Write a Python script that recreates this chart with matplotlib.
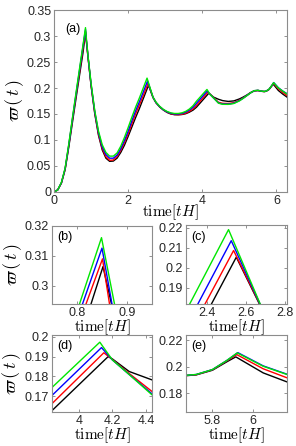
import numpy as np
import matplotlib
matplotlib.use('Agg')
import matplotlib.pyplot as plt
from matplotlib.ticker import FuncFormatter

plt.rcParams['font.family'] = ['Liberation Sans', 'DejaVu Sans']
plt.rcParams['mathtext.fontset'] = 'cm'

# curves: time [tH] and varpi(t)
t_black = [0.0, 0.1, 0.2, 0.3, 0.4, 0.5, 0.6, 0.7, 0.78, 0.828, 0.852, 0.869, 0.92, 1.0, 1.1, 1.2, 1.3,
           1.4, 1.5, 1.6, 1.7, 1.8, 1.9, 2.0, 2.1, 2.2, 2.3, 2.421, 2.549, 2.668, 2.75, 2.85, 2.95,
           3.05, 3.15, 3.25, 3.35, 3.45, 3.55, 3.65, 3.75, 3.84, 4.175, 4.2, 4.3, 4.436, 4.55, 4.7,
           4.85, 5.0, 5.1, 5.2, 5.3, 5.4, 5.5, 5.6, 5.67, 5.72, 5.8, 5.87, 5.915, 6.05, 6.167, 6.283]
w_black = [0.0, 0.004, 0.017, 0.043, 0.087, 0.135, 0.183, 0.230, 0.267, 0.2939, 0.3064, 0.2939, 0.257,
           0.204, 0.150, 0.109, 0.081, 0.065, 0.059, 0.0595, 0.065, 0.076, 0.090, 0.107, 0.125, 0.143,
           0.160, 0.182, 0.2053, 0.182, 0.1715, 0.1635, 0.1575, 0.153, 0.150, 0.1487, 0.1485, 0.149,
           0.1505, 0.1535, 0.1575, 0.1629, 0.190, 0.1888, 0.1825, 0.1783, 0.1757, 0.1742, 0.1752,
           0.179, 0.1825, 0.1865, 0.1912, 0.1945, 0.195, 0.1936, 0.1931, 0.1937, 0.1972, 0.2035,
           0.2073, 0.1952, 0.1884, 0.1825]

t_red = [0.0, 0.1, 0.2, 0.3, 0.4, 0.5, 0.6, 0.7, 0.818, 0.851, 0.865, 0.92, 1.0, 1.1, 1.2, 1.3, 1.4,
         1.5, 1.6, 1.7, 1.8, 1.9, 2.0, 2.1, 2.2, 2.3, 2.388, 2.535, 2.67, 2.75, 2.85, 2.95, 3.05,
         3.15, 3.25, 3.35, 3.45, 3.55, 3.65, 3.75, 3.84, 4.149, 4.2, 4.3, 4.436, 4.55, 4.7, 4.85,
         5.0, 5.1, 5.2, 5.3, 5.4, 5.5, 5.6, 5.67, 5.72, 5.8, 5.87, 5.92, 6.05, 6.167, 6.283]
w_red = [0.0, 0.004, 0.0175, 0.044, 0.090, 0.140, 0.188, 0.236, 0.2939, 0.309, 0.2939, 0.258, 0.205,
         0.152, 0.111, 0.084, 0.068, 0.061, 0.0615, 0.068, 0.080, 0.095, 0.112, 0.131, 0.150, 0.167,
         0.182, 0.2086, 0.182, 0.172, 0.164, 0.158, 0.1535, 0.1505, 0.149, 0.1487, 0.1495, 0.1515,
         0.155, 0.160, 0.1664, 0.1919, 0.1885, 0.1815, 0.1725, 0.1705, 0.1702, 0.1718, 0.1765,
         0.1808, 0.1855, 0.1908, 0.1946, 0.1953, 0.1937, 0.1932, 0.1938, 0.1975, 0.2042, 0.209,
         0.1983, 0.1915, 0.1855]

t_blue = [0.0, 0.1, 0.2, 0.3, 0.4, 0.5, 0.6, 0.7, 0.811, 0.850, 0.870, 0.92, 1.0, 1.1, 1.2, 1.3, 1.4,
          1.5, 1.6, 1.7, 1.8, 1.9, 2.0, 2.1, 2.2, 2.351, 2.523, 2.671, 2.75, 2.85, 2.95, 3.05, 3.15,
          3.25, 3.35, 3.45, 3.55, 3.65, 3.75, 3.84, 4.135, 4.2, 4.3, 4.436, 4.55, 4.7, 4.85, 5.0,
          5.1, 5.2, 5.3, 5.4, 5.5, 5.6, 5.67, 5.72, 5.8, 5.87, 5.925, 6.05, 6.167, 6.283]
w_blue = [0.0, 0.004, 0.018, 0.045, 0.091, 0.142, 0.191, 0.240, 0.2939, 0.3126, 0.2939, 0.259, 0.207,
          0.154, 0.114, 0.087, 0.072, 0.065, 0.065, 0.071, 0.083, 0.099, 0.117, 0.137, 0.156, 0.182,
          0.2135, 0.182, 0.1722, 0.1642, 0.1582, 0.154, 0.1513, 0.150, 0.150, 0.151, 0.1535, 0.1575,
          0.163, 0.1705, 0.1945, 0.1883, 0.181, 0.1713, 0.1692, 0.169, 0.1708, 0.1758, 0.1803,
          0.1855, 0.1906, 0.1948, 0.1955, 0.1938, 0.1933, 0.194, 0.1977, 0.2045, 0.2105, 0.2005,
          0.1942, 0.189]

t_green = [0.0, 0.1, 0.2, 0.3, 0.4, 0.5, 0.6, 0.7, 0.805, 0.849, 0.875, 0.92, 1.0, 1.1, 1.2, 1.3, 1.4,
           1.5, 1.6, 1.7, 1.8, 1.9, 2.0, 2.1, 2.2, 2.309, 2.509, 2.672, 2.75, 2.85, 2.95, 3.05, 3.15,
           3.25, 3.35, 3.45, 3.55, 3.65, 3.75, 3.84, 4.125, 4.2, 4.3, 4.436, 4.55, 4.7, 4.85, 5.0,
           5.1, 5.2, 5.3, 5.4, 5.5, 5.6, 5.67, 5.72, 5.8, 5.87, 5.922, 6.05, 6.167, 6.283]
w_green = [0.0, 0.004, 0.0185, 0.046, 0.093, 0.144, 0.194, 0.243, 0.2939, 0.3161, 0.2939, 0.260, 0.209,
           0.156, 0.117, 0.091, 0.076, 0.069, 0.069, 0.075, 0.088, 0.105, 0.124, 0.144, 0.163, 0.182,
           0.219, 0.182, 0.1728, 0.1648, 0.1588, 0.1548, 0.1522, 0.151, 0.151, 0.1522, 0.155, 0.1595,
           0.166, 0.1745, 0.1972, 0.1883, 0.181, 0.1708, 0.1686, 0.1685, 0.1702, 0.1752, 0.18,
           0.1853, 0.1906, 0.1949, 0.1956, 0.1939, 0.1934, 0.194, 0.1977, 0.2045, 0.2103, 0.2002,
           0.194, 0.1885]

curves = [(t_black, w_black, 'k'), (t_red, w_red, 'r'), (t_blue, w_blue, 'b'), (t_green, w_green, '#00e600')]

W, H = 296, 446
fig = plt.figure(figsize=(W / 100, H / 100), dpi=100)

def rect(l, r, t, b):
    return [l / W, 1 - b / H, (r - l) / W, (b - t) / H]

fmt = FuncFormatter(lambda v, p: '%g' % round(v, 4))

def style(ax, xlim, ylim, xt, yt, tag, ylab, xpad=-1):
    for (t, w, c) in curves:
        ax.plot(t, w, color=c, lw=1.0)
    ax.set_xlim(xlim)
    ax.set_ylim(ylim)
    ax.set_xticks(xt)
    ax.set_yticks(yt)
    ax.xaxis.set_major_formatter(fmt)
    ax.yaxis.set_major_formatter(fmt)
    ax.tick_params(direction='in', top=True, right=True, length=2.5, width=0.6,
                   labelsize=9, colors='0.5', labelcolor='0.15', pad=2)
    for s in ax.spines.values():
        s.set_color('0.55')
        s.set_linewidth(0.8)
    ax.set_xlabel(r'$\mathrm{time}[tH]$', fontsize=11, labelpad=xpad)
    if ylab:
        ax.set_ylabel(r'$\varpi\,(\,t\,)$', fontsize=13, labelpad=1)
    ax.text(0.05, 0.93, tag, transform=ax.transAxes, fontsize=9, va='top', ha='left')

ax_a = fig.add_axes(rect(54, 287, 10, 192))
style(ax_a, (0, 2 * np.pi), (0, 0.35), [0, 2, 4, 6], np.arange(0, 0.351, 0.05), '(a)', True, xpad=-3)

ax_b = fig.add_axes(rect(52, 152, 226, 304))
style(ax_b, (0.75, 0.95), (0.2939, 0.32), [0.8, 0.9], [0.3, 0.31, 0.32], '(b)', True)

ax_c = fig.add_axes(rect(186, 287, 225, 304))
style(ax_c, (2.29, 2.81), (0.182, 0.2213), [2.4, 2.6, 2.8], [0.19, 0.2, 0.21, 0.22], '(c)', False)

ax_d = fig.add_axes(rect(52, 152, 335, 412))
style(ax_d, (3.84, 4.436), (0.1622, 0.2008), [4, 4.2, 4.4], [0.17, 0.18, 0.19, 0.2], '(d)', True)

ax_e = fig.add_axes(rect(186, 287, 335, 412))
style(ax_e, (5.67, 6.167), (0.1657, 0.2238), [5.8, 6], [0.18, 0.2, 0.22], '(e)', False)

fig.savefig('out.png', dpi=100)
